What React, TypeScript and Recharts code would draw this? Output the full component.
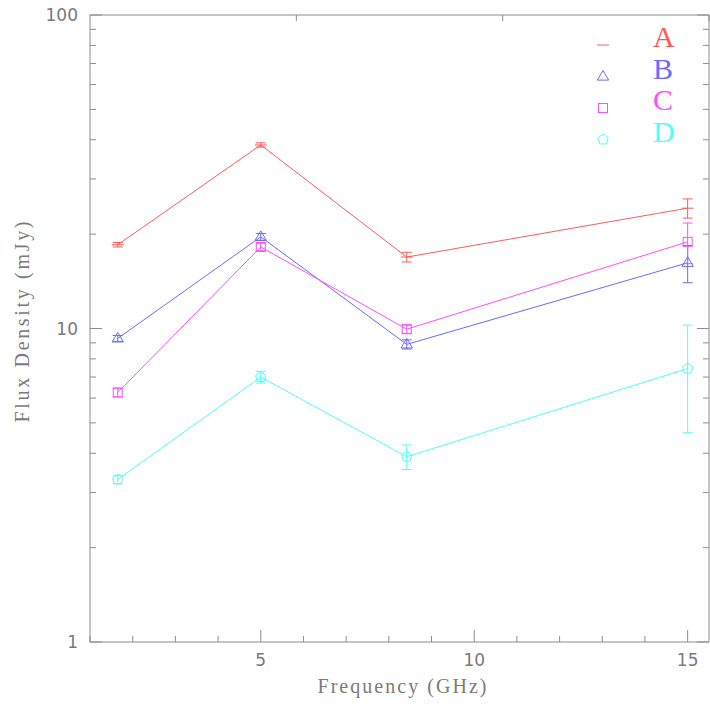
import React from 'react';
import { ComposedChart, Line, XAxis, YAxis, ErrorBar, Legend } from 'recharts';

const frequencies = [1.65, 5.0, 8.42, 15.0];
const fluxA = [18.5, 38.5, 16.9, 24.2];
const errA = [0.3, 0.6, 0.6, 1.7];
const fluxB = [9.3, 19.6, 8.9, 16.2];
const errB = [0.2, 0.5, 0.3, 2.2];
const fluxC = [6.25, 18.2, 9.95, 18.9];
const errC = [0.2, 0.5, 0.3, 2.8];
const fluxD = [3.3, 7.0, 3.9, 7.45];
const errD = [0.1, 0.3, 0.35, 2.8];

const seriesNames = ['A', 'B', 'C', 'D'];
const seriesColors = ['#ff5a5a', '#6b6bff', '#ff4dff', '#4dffff'];
const seriesShapes = ['dash', 'triangle', 'square', 'pentagon'];

const xTicks = [1, 2, 3, 4, 5, 6, 7, 8, 9, 10, 11, 12, 13, 14, 15];
const xMajor = [5, 10, 15];
const yTicks = [1, 2, 3, 4, 5, 6, 7, 8, 9, 10, 20, 30, 40, 50, 60, 70, 80, 90, 100];
const yMajor = [1, 10, 100];

const xTitle = 'Frequency (GHz)';
const yTitle = 'Flux Density (mJy)';

const fluxes = [fluxA, fluxB, fluxC, fluxD];
const errs = [errA, errB, errC, errD];

const data = frequencies.map((f, i) => {
  const row: any = { freq: f };
  seriesNames.forEach((n, k) => {
    row[n] = fluxes[k][i];
    row[n + 'err'] = errs[k][i];
  });
  return row;
});

const AXIS = '#8c8c8c';
const TEXT = '#7a7a7a';
const TICKFONT = '"DejaVu Sans", sans-serif';
const TITLEFONT = '"Liberation Serif", "DejaVu Serif", serif';

function Marker({ cx, cy, shape, color }: any) {
  if (cx == null || cy == null) return null;
  const common = { fill: 'none', stroke: color, strokeWidth: 1 };
  if (shape === 'dash') {
    return <line x1={cx - 6} y1={cy} x2={cx + 6} y2={cy} stroke={color} strokeWidth={1} />;
  }
  if (shape === 'triangle') {
    const r = 6;
    return (
      <polygon
        {...common}
        points={`${cx},${cy - r} ${cx - r * 0.95},${cy + r * 0.6} ${cx + r * 0.95},${cy + r * 0.6}`}
      />
    );
  }
  if (shape === 'square') {
    return <rect {...common} x={cx - 4.5} y={cy - 4.5} width={9} height={9} />;
  }
  const r = 5.5;
  const pts = [0, 1, 2, 3, 4]
    .map((k) => {
      const a = ((-90 + 72 * k) * Math.PI) / 180;
      return `${cx + r * Math.cos(a)},${cy + r * Math.sin(a)}`;
    })
    .join(' ');
  return <polygon {...common} points={pts} />;
}

function BottomTick({ x, y, payload }: any) {
  const major = xMajor.includes(payload.value);
  return (
    <g>
      <line x1={x} y1={y} x2={x} y2={y - (major ? 12 : 6)} stroke={AXIS} strokeWidth={1} />
      {major && (
        <text x={x} y={y + 12} dy="0.71em" textAnchor="middle" fill={TEXT} fontSize={17} fontFamily={TICKFONT}>
          {payload.value}
        </text>
      )}
    </g>
  );
}

function TopTick({ x, y, payload }: any) {
  const major = xMajor.includes(payload.value);
  return <line x1={x} y1={y} x2={x} y2={y + (major ? 12 : 6)} stroke={AXIS} strokeWidth={1} />;
}

function LeftTick({ x, y, payload }: any) {
  const major = yMajor.includes(payload.value);
  return (
    <g>
      <line x1={x} y1={y} x2={x + (major ? 12 : 6)} y2={y} stroke={AXIS} strokeWidth={1} />
      {major && (
        <text x={x - 12} y={y} dy="0.36em" textAnchor="end" fill={TEXT} fontSize={17} fontFamily={TICKFONT}>
          {payload.value}
        </text>
      )}
    </g>
  );
}

function RightTick({ x, y, payload }: any) {
  const major = yMajor.includes(payload.value);
  return <line x1={x} y1={y} x2={x - (major ? 12 : 6)} y2={y} stroke={AXIS} strokeWidth={1} />;
}

function LegendContent() {
  return (
    <svg width={110} height={135} style={{ display: 'block' }}>
      {seriesNames.map((n, i) => (
        <g key={n}>
          <Marker cx={18} cy={25 + i * 31.5} shape={seriesShapes[i]} color={seriesColors[i]} />
          <text
            x={68}
            y={27 + i * 31.5}
            textAnchor="start"
            fill={seriesColors[i]}
            fontSize={30}
            fontFamily={TITLEFONT}
          >
            {n}
          </text>
        </g>
      ))}
    </svg>
  );
}

export default function App() {
  return (
    <div style={{ position: 'absolute', left: 0, top: 0, width: 710, height: 704, background: '#fff' }}>
      <ComposedChart width={710} height={704} data={data} margin={{ top: 14, right: 0, bottom: 0, left: 0 }}>
        <XAxis
          xAxisId="bottom"
          dataKey="freq"
          type="number"
          domain={[1, 15.5]}
          allowDataOverflow
          ticks={xTicks}
          interval={0}
          tickSize={0}
          tickMargin={0}
          height={62}
          stroke={AXIS}
          tick={<BottomTick />}
          label={(props: any) => {
            const vb = props.viewBox;
            return (
              <text
                x={402}
                y={vb.y + 51}
                textAnchor="middle"
                fill={TEXT}
                fontSize={20}
                fontFamily={TITLEFONT}
                textLength={169}
                lengthAdjust="spacing"
              >
                {xTitle}
              </text>
            );
          }}
        />
        <XAxis
          xAxisId="top"
          orientation="top"
          type="number"
          domain={[1, 15.5]}
          allowDataOverflow
          ticks={xTicks}
          interval={0}
          tickSize={0}
          tickMargin={0}
          height={1}
          stroke={AXIS}
          tick={<TopTick />}
        />
        <YAxis
          yAxisId="left"
          scale="log"
          type="number"
          domain={[1, 100]}
          allowDataOverflow
          ticks={yTicks}
          interval={0}
          tickSize={0}
          tickMargin={0}
          width={90}
          stroke={AXIS}
          tick={<LeftTick />}
          label={() => {
            const cx = 23;
            const cy = 322;
            return (
              <text
                x={cx}
                y={cy}
                transform={`rotate(-90, ${cx}, ${cy})`}
                textAnchor="middle"
                dy="0.3em"
                fill={TEXT}
                fontSize={20}
                fontFamily={TITLEFONT}
                textLength={201}
                lengthAdjust="spacing"
              >
                {yTitle}
              </text>
            );
          }}
        />
        <YAxis
          yAxisId="right"
          orientation="right"
          scale="log"
          type="number"
          domain={[1, 100]}
          allowDataOverflow
          ticks={yTicks}
          interval={0}
          tickSize={0}
          tickMargin={0}
          width={1}
          stroke={AXIS}
          tick={<RightTick />}
        />
        <Legend
          layout="vertical"
          align="center"
          verticalAlign="middle"
          wrapperStyle={{ top: 20, left: 585, width: 110, height: 135 }}
          content={() => <LegendContent />}
        />
        {seriesNames.map((n, i) => (
          <Line
            key={n}
            xAxisId="bottom"
            yAxisId="left"
            dataKey={n}
            name={n}
            stroke={seriesColors[i]}
            strokeWidth={1}
            isAnimationActive={false}
            dot={(p: any) => <Marker key={`${n}-${p.index}`} cx={p.cx} cy={p.cy} shape={seriesShapes[i]} color={seriesColors[i]} />}
            activeDot={false}
          >
            <ErrorBar dataKey={n + 'err'} width={5} stroke={seriesColors[i]} strokeWidth={1} direction="y" isAnimationActive={false} />
          </Line>
        ))}
      </ComposedChart>
    </div>
  );
}
